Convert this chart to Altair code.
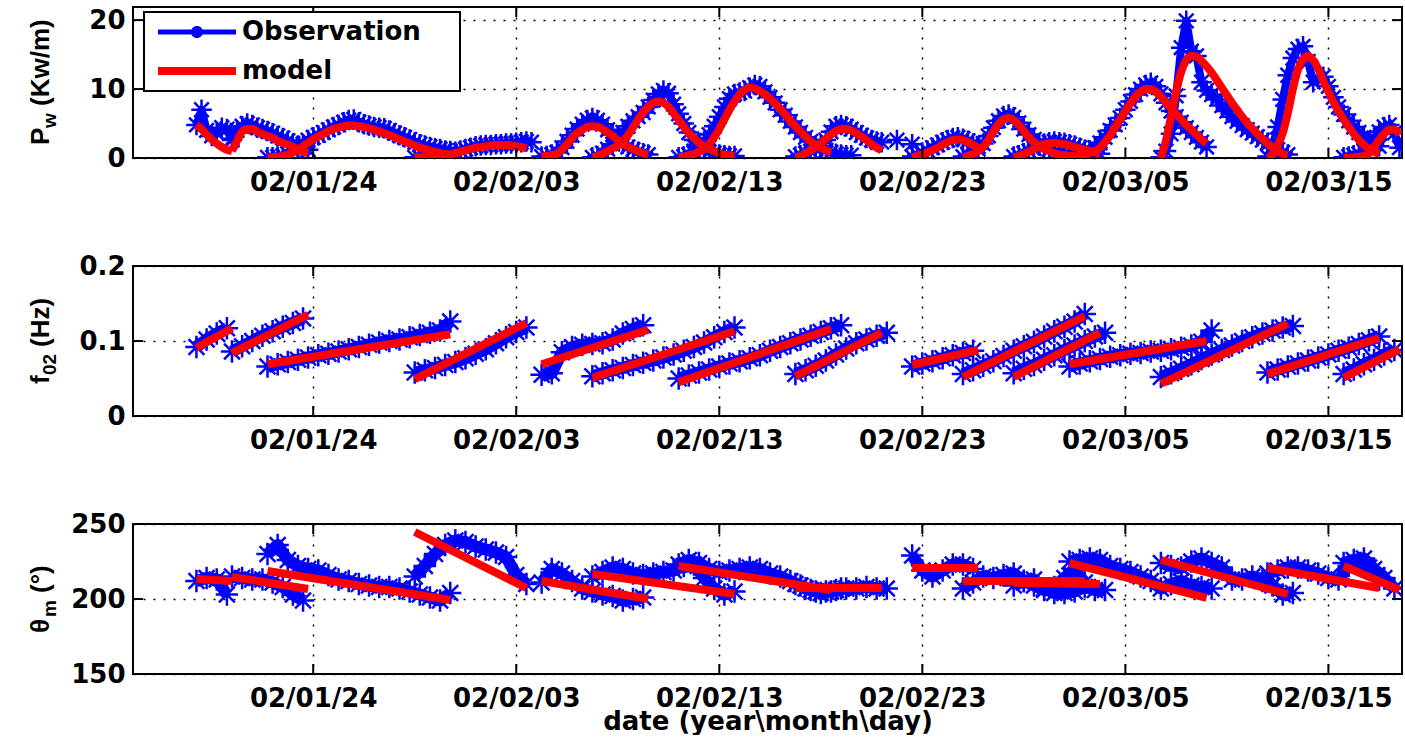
import altair as alt
import pandas as pd

BLUE = "#0000ff"
RED = "#ff0000"
FONT = "DejaVu Sans"
TFONT = "Liberation Sans"

# Start of each storm event (observations every 6 h for Pw, every 12 h for f02 / theta)
EVENT_START = [
    "2002-01-18 06:00", "2002-01-20 00:00", "2002-01-21 18:00", "2002-01-29 00:00",
    "2002-02-04 06:00", "2002-02-06 18:00", "2002-02-11 00:00", "2002-02-16 18:00",
    "2002-02-22 12:00", "2002-02-25 00:00", "2002-02-27 12:00", "2002-03-02 06:00",
    "2002-03-06 18:00", "2002-03-12 00:00", "2002-03-15 18:00",
]

# Wave power, observed (6-hourly)
PW_OBS = [
    [4.8, 7.0, 4.0, 3.2, 3.6, 4.4, 4.2, 2.6],
    [2.8, 4.0, 4.6, 5.0, 4.8, 4.4, 4.2, 3.9, 3.6, 3.2, 2.9, 2.5, 2.1, 1.8, 1.5, 1.2],
    [0.1, 0.1, 0.2, 0.3, 0.6, 1.0, 1.5, 2.0, 2.6, 3.0, 3.3, 3.7, 4.1, 4.5, 4.8, 5.2, 5.5, 5.6, 5.2,
     4.9, 4.7, 4.5, 4.4, 4.3, 4.0, 3.6, 3.3, 3.0, 2.7, 2.3, 2.0, 1.8, 1.6, 1.4, 1.3, 1.1, 1.0],
    [0.1, 0.1, 0.2, 0.2, 0.3, 0.4, 0.5, 0.7, 0.9, 1.1, 1.3, 1.5, 1.7, 1.8, 1.9, 1.9, 2.0, 2.0, 2.1,
     2.1, 2.2, 2.3, 2.4, 2.3],
    [0.2, 0.3, 0.5, 0.8, 1.5, 2.4, 3.3, 4.2, 4.9, 5.5, 5.8, 5.5, 4.9, 4.1, 3.4, 2.7, 2.1, 1.6, 1.2,
     0.9, 0.7, 0.5],
    [0.1, 0.3, 0.7, 1.3, 2.0, 2.8, 3.7, 4.6, 5.4, 6.0, 6.6, 7.4, 8.4, 9.3, 9.8, 9.4, 7.8, 6.4, 5.0,
     3.7, 2.6, 1.8, 1.3, 0.9, 0.7, 0.5, 0.4, 0.3, 0.3],
    [0.1, 0.2, 0.5, 1.0, 1.6, 2.4, 3.4, 4.6, 6.0, 7.4, 8.6, 9.3, 9.5, 9.7, 10.2, 10.6, 10.4, 9.6,
     8.8, 8.0, 7.0, 6.2, 5.3, 4.5, 3.7, 3.0, 2.4, 1.8, 1.4, 1.1, 0.8, 0.6, 0.5, 0.4, 0.4],
    [0.2, 0.4, 0.7, 1.0, 1.3, 1.7, 2.6, 3.8, 4.6, 4.8, 4.6, 4.2, 3.7, 3.3, 2.9, 2.6, 2.4, 2.3],
    [0.2, 0.5, 0.8, 1.1, 1.5, 1.9, 2.3, 2.6, 2.9, 3.0, 2.8, 2.5, 2.1, 1.7],
    [0.2, 0.4, 0.8, 1.3, 2.1, 3.2, 4.4, 5.4, 6.1, 6.3, 5.9, 5.1, 4.2, 3.4, 2.7, 2.1, 1.6, 1.2, 0.9,
     0.7, 0.5, 0.4, 0.4, 0.3, 0.3],
    [0.2, 0.4, 0.7, 1.0, 1.4, 1.8, 2.1, 2.3, 2.4, 2.3, 2.2, 2.0, 1.8, 1.5, 1.2, 1.0, 0.8, 0.6],
    [0.3, 0.4, 0.6, 0.8, 1.1, 1.5, 2.2, 3.0, 4.0, 4.8, 5.8, 7.0, 8.2, 9.2, 10.0, 10.6, 10.9, 10.4,
     9.3, 8.0, 6.8, 6.0, 5.2, 4.4, 3.7, 3.0, 2.3, 1.6],
    [0.1, 1.0, 3.5, 9.0, 16.0, 19.9, 15.5, 14.8, 11.0, 9.8, 9.2, 8.5, 7.6, 6.8, 6.0, 5.3, 4.7, 4.1,
     3.6, 3.1, 2.6, 2.2, 1.7, 1.2, 0.8, 0.5],
    [0.2, 1.5, 4.5, 8.5, 12.0, 14.5, 15.8, 16.2, 14.0, 11.0, 11.5, 11.8, 10.4, 8.8, 7.4, 6.3, 5.4,
     4.5, 3.7, 3.0, 2.4, 2.0, 1.7],
    [0.1, 0.2, 0.4, 0.6, 1.0, 1.8, 2.9, 3.8, 4.5, 4.8, 3.6, 1.5],
]

# Wave power, model (6-hourly)
PW_MOD = [
    [4.8, 4.2, 3.4, 2.7, 2.1, 1.6, 1.2, 1.0],
    [1.0, 2.5, 3.8, 4.2, 4.2, 3.8, 3.5, 3.2, 2.9, 2.5, 2.2, 1.9, 1.6, 1.2, 0.9, 0.7],
    [0.1, 0.1, 0.2, 0.3, 0.5, 0.8, 1.2, 1.7, 2.2, 2.7, 3.1, 3.5, 3.9, 4.2, 4.4, 4.6, 4.7, 4.7, 4.6,
     4.5, 4.3, 4.1, 3.8, 3.6, 3.3, 3.0, 2.7, 2.4, 2.1, 1.8, 1.5, 1.3, 1.1, 0.9, 0.7, 0.6, 0.5],
    [0.0, 0.1, 0.1, 0.2, 0.2, 0.3, 0.4, 0.5, 0.7, 0.9, 1.1, 1.3, 1.5, 1.6, 1.7, 1.8, 1.9, 1.9, 1.9,
     1.8, 1.7, 1.6, 1.4],
    [0.2, 0.3, 0.4, 0.6, 1.2, 2.0, 2.9, 3.6, 4.1, 4.5, 4.6, 4.5, 4.2, 3.7, 3.2, 2.6, 2.1, 1.6, 1.3,
     1.0, 0.7, 0.5],
    [0.1, 0.3, 0.6, 1.0, 1.4, 1.8, 2.4, 3.3, 4.4, 5.6, 6.6, 7.4, 8.0, 8.2, 8.0, 7.4, 6.5, 5.5, 4.5,
     3.6, 2.9, 2.2, 1.7, 1.3, 1.0, 0.7, 0.5, 0.4, 0.3],
    [0.1, 0.2, 0.4, 0.6, 0.9, 1.3, 2.0, 3.0, 4.2, 5.6, 7.0, 8.2, 9.2, 9.9, 10.2, 10.1, 9.7, 9.2,
     8.6, 7.9, 7.1, 6.3, 5.4, 4.6, 3.8, 3.1, 2.4, 1.9, 1.5, 1.1, 0.8],
    [0.1, 0.3, 0.7, 1.1, 1.6, 2.1, 2.8, 3.4, 3.9, 4.2, 4.2, 4.0, 3.6, 3.1, 2.6, 2.0, 1.5, 1.1],
    [0.1, 0.3, 0.5, 0.8, 1.1, 1.5, 1.9, 2.3, 2.6, 2.7, 2.6, 2.3, 1.9, 1.5],
    [0.1, 0.3, 0.6, 1.0, 1.6, 2.6, 3.8, 4.9, 5.6, 5.8, 5.5, 4.8, 3.9, 3.0, 2.3, 1.7, 1.3, 1.0, 0.7,
     0.5, 0.4, 0.3, 0.3, 0.2, 0.2],
    [0.1, 0.3, 0.6, 0.9, 1.3, 1.7, 2.0, 2.1, 2.2, 2.1, 2.0, 1.8, 1.6, 1.4, 1.2, 1.0, 0.8, 0.6],
    [0.2, 0.3, 0.4, 0.5, 0.7, 1.0, 1.5, 2.3, 3.3, 4.5, 5.6, 6.8, 7.9, 8.9, 9.6, 10.0, 10.0, 9.6,
     8.9, 8.0, 7.2, 6.4, 5.6, 4.8, 4.1, 3.4, 2.7, 2.1],
    [0.0, 2.5, 6.0, 9.6, 12.5, 14.2, 14.8, 14.7, 14.1, 13.3, 12.4, 11.3, 10.2, 9.1, 8.0, 7.0, 6.0,
     5.1, 4.3, 3.5, 2.8, 2.1, 1.5, 1.0, 0.6, 0.4],
    [0.0, 0.5, 1.8, 3.6, 6.5, 10.0, 12.8, 14.3, 14.8, 14.2, 12.9, 11.2, 9.6, 8.1, 6.8, 5.6, 4.5,
     3.5, 2.6, 1.9, 1.3, 0.9, 0.6],
    [0.0, 0.0, 0.1, 0.2, 0.3, 0.7, 1.6, 2.6, 3.5, 4.1, 4.1, 3.4],
]

# Isolated Pw observations between events
LONE_T = ["2002-02-21 18:00", "2002-02-22 12:00"]
LONE_PW = [2.6, 2.0]

# Mean frequency f02, observed (12-hourly)
F_OBS = [
    [0.092, 0.102, 0.110, 0.117],
    [0.086, 0.093, 0.100, 0.107, 0.113, 0.119, 0.124, 0.130],
    [0.066, 0.069, 0.072, 0.075, 0.078, 0.081, 0.083, 0.086, 0.089, 0.092, 0.095, 0.098, 0.100,
     0.102, 0.105, 0.108, 0.111, 0.114, 0.126],
    [0.058, 0.061, 0.064, 0.068, 0.072, 0.077, 0.083, 0.089, 0.097, 0.105, 0.112, 0.118],
    [0.055, 0.057, 0.085, 0.092, 0.095, 0.096, 0.097, 0.102, 0.110, 0.116, 0.121],
    [0.053, 0.057, 0.061, 0.064, 0.068, 0.071, 0.074, 0.078, 0.082, 0.087, 0.092, 0.098, 0.105,
     0.112, 0.118],
    [0.050, 0.054, 0.058, 0.062, 0.066, 0.070, 0.073, 0.077, 0.081, 0.087, 0.092, 0.097, 0.102,
     0.107, 0.112, 0.117, 0.121],
    [0.056, 0.061, 0.067, 0.074, 0.082, 0.090, 0.097, 0.102, 0.107, 0.111],
    [0.066, 0.070, 0.073, 0.077, 0.081, 0.084, 0.087],
    [0.056, 0.061, 0.067, 0.073, 0.080, 0.087, 0.093, 0.099, 0.106, 0.113, 0.119, 0.126, 0.136],
    [0.057, 0.063, 0.068, 0.075, 0.081, 0.088, 0.094, 0.100, 0.106, 0.111],
    [0.066, 0.070, 0.073, 0.076, 0.079, 0.081, 0.083, 0.084, 0.086, 0.087, 0.089, 0.091, 0.094,
     0.099, 0.114],
    [0.052, 0.057, 0.063, 0.069, 0.076, 0.082, 0.088, 0.094, 0.100, 0.105, 0.110, 0.114, 0.118,
     0.120],
    [0.058, 0.062, 0.066, 0.070, 0.074, 0.078, 0.082, 0.087, 0.091, 0.096, 0.101, 0.106],
    [0.056, 0.062, 0.069, 0.075, 0.082, 0.088],
]

# Mean direction theta_m, observed (12-hourly)
TH_OBS = [
    [212, 214, 213, 203],
    [215, 214, 213, 213, 211, 208, 203, 199],
    [230, 236, 226, 222, 220, 219, 216, 213, 212, 210, 209, 208, 208, 207, 205, 203, 201, 199, 204],
    [215, 222, 230, 236, 239, 238, 235, 233, 231, 228, 216, 210],
    [211, 220, 217, 212, 207, 205, 203, 202, 199, 200, 201],
    [215, 218, 221, 220, 217, 216, 217, 218, 219, 222, 223, 214, 207, 203, 205],
    [223, 226, 224, 220, 218, 219, 220, 221, 220, 217, 215, 212, 209, 206, 204, 205, 207],
    [210, 207, 205, 205, 206, 207, 207, 208, 207, 207],
    [229, 219, 215, 219, 223, 223, 220],
    [207, 211, 215, 214, 216, 217, 212, 209, 206, 208, 214, 220, 211],
    [209, 212, 213, 207, 204, 204, 205, 208, 206, 206],
    [225, 226, 227, 226, 222, 220, 218, 215, 212, 207, 210, 212, 209, 208, 207],
    [224, 222, 221, 225, 227, 224, 221, 213, 213, 215, 212, 209, 203, 204],
    [217, 219, 221, 221, 219, 217, 214, 213, 222, 224, 221, 213],
    [224, 226, 227, 220, 214, 207],
]

# Linear model trends over each event (start value, end value)
F_MOD = [
    (0.091, 0.117), (0.084, 0.135), (0.069, 0.109), (0.049, 0.124), (0.069, 0.115),
    (0.051, 0.113), (0.045, 0.116), (0.053, 0.111), (0.068, 0.088), (0.052, 0.133),
    (0.052, 0.111), (0.069, 0.100), (0.043, 0.123), (0.056, 0.104), (0.051, 0.089),
]
TH_MOD = [
    (213.3, 212.0), (214.7, 206.7), (218.7, 199.3), (244.7, 207.3), (212.0, 200.0),
    (216.7, 203.3), (222.0, 206.0), (207.3, 207.3), (220.7, 220.7), (212.0, 212.0),
    (210.7, 210.0), (224.0, 200.7), (226.0, 203.3), (220.7, 207.3), (222.0, 206.0),
]

TICK_DATES = [(2002, 1, 24), (2002, 2, 3), (2002, 2, 13), (2002, 2, 23), (2002, 3, 5), (2002, 3, 15)]
X_START = (2002, 1, 15, 3)
X_END = (2002, 3, 18, 15)

W = 1269
H1, H2, H3 = 151, 150, 150

STAR = "M-1,0L1,0M0,-1L0,1M-0.71,-0.71L0.71,0.71M-0.71,0.71L0.71,-0.71"
# legend glyphs: line with a dot, and a thick line (trailing move widens the legend frame)
LEG_OBS = ("M-4,-0.26L4,-0.26L4,0.26L-4,0.26Z"
           "M0.62,0A0.62,0.62 0 1,1 -0.62,0A0.62,0.62 0 1,1 0.62,0Z")
LEG_MOD = "M-4,-0.41L4,-0.41L4,0.41L-4,0.41ZM26.2,0"


def stamp(start, i, step_h):
    return (pd.Timestamp(start) + pd.Timedelta(hours=step_h * i)).strftime("%Y-%m-%dT%H:%M:%S")


def long_frame(lists, step_h):
    rows = []
    for k, (start, vals) in enumerate(zip(EVENT_START, lists)):
        for i, v in enumerate(vals):
            rows.append({"seg": k, "t": stamp(start, i, step_h), "val": v})
    return pd.DataFrame(rows)


def trend_frame(pairs):
    rows = []
    for k, (start, mod, (v0, v1)) in enumerate(zip(EVENT_START, PW_MOD, pairs)):
        rows.append({"seg": k, "t": stamp(start, 0, 6), "val": v0})
        rows.append({"seg": k, "t": stamp(start, len(mod) - 1, 6), "val": v1})
    return pd.DataFrame(rows)


def dt(y, m, d, h=0):
    return alt.DateTime(year=y, month=m, date=d, hours=h)


def xenc(title=None):
    return alt.X(
        "t:T",
        scale=alt.Scale(domain=[dt(*X_START), dt(*X_END)], nice=False),
        axis=alt.Axis(values=[dt(*d) for d in TICK_DATES], format="%y/%m/%d", title=title,
                      labelFlush=False, labelOverlap=False),
    )


def yenc(domain, ticks):
    return alt.Y(
        "val:Q",
        scale=alt.Scale(domain=domain, nice=False, zero=False),
        axis=alt.Axis(values=ticks, format=".3~f", title=None),
    )


tick_df = pd.DataFrame({"t": ["%04d-%02d-%02dT00:00:00" % d for d in TICK_DATES]})


def star_layer(df, size):
    return alt.Chart(df).mark_point(shape=STAR, size=size, filled=False, color=BLUE,
                                    strokeWidth=2.5, opacity=1, clip=True)


def panel(obs_df, mod_df, interp, domain, ticks, h, title_parts, obs_w, star_size,
          xtitle=None, extra=()):
    X = xenc(xtitle)
    Y = yenc(domain, ticks)
    layers = [
        alt.Chart(obs_df).mark_line(color=BLUE, strokeWidth=obs_w, strokeJoin="round", clip=True)
        .encode(x=X, y=Y, detail="seg:N"),
        star_layer(obs_df, star_size).encode(x=X, y=Y),
    ]
    layers += list(extra)
    layers.append(
        alt.Chart(mod_df).mark_line(color=RED, strokeWidth=8, interpolate=interp, clip=True)
        .encode(x=X, y=Y, detail="seg:N")
    )
    # inward tick marks on all four sides
    layers.append(alt.Chart(tick_df).mark_rule(color="black", strokeWidth=2)
                  .encode(x=X, y=alt.value(h), y2=alt.value(h - 10)))
    layers.append(alt.Chart(tick_df).mark_rule(color="black", strokeWidth=2)
                  .encode(x=X, y=alt.value(0), y2=alt.value(10)))
    ytick_df = pd.DataFrame({"val": ticks})
    layers.append(alt.Chart(ytick_df).mark_rule(color="black", strokeWidth=2)
                  .encode(y=Y, x=alt.value(0), x2=alt.value(10)))
    layers.append(alt.Chart(ytick_df).mark_rule(color="black", strokeWidth=2)
                  .encode(y=Y, x=alt.value(W - 10), x2=alt.value(W)))
    # rotated y-axis title, with subscript
    for text, size, bx, by in title_parts:
        layers.append(
            alt.Chart(pd.DataFrame({"s": [text]}))
            .mark_text(angle=270, align="left", baseline="alphabetic", font=TFONT,
                       fontWeight="bold", fontSize=size, color="black")
            .encode(text="s:N", x=alt.value(bx), y=alt.value(by))
        )
    return alt.layer(*layers).properties(width=W, height=h)


pw_obs = long_frame(PW_OBS, 6)
pw_mod = long_frame(PW_MOD, 6)
lone_df = pd.DataFrame({"t": [pd.Timestamp(t).strftime("%Y-%m-%dT%H:%M:%S") for t in LONE_T],
                        "val": LONE_PW})
f_obs = long_frame(F_OBS, 12)
f_mod = trend_frame(F_MOD)
th_obs = long_frame(TH_OBS, 12)
th_mod = trend_frame(TH_MOD)

legend = alt.Legend(
    title=None, orient="none", legendX=11, legendY=5, direction="vertical",
    labelFont=FONT, labelFontWeight="bold", labelFontSize=26, labelColor="black",
    labelLimit=0,
    symbolSize=380, symbolStrokeWidth=0, symbolOffset=33, labelOffset=32,
    rowPadding=13, padding=7, strokeColor="black", fillColor="white",
)
series = ["Observation", "model"]
legend_layer = alt.Chart(alt.Data(values=[])).mark_point(filled=True, opacity=1).encode(
    x=xenc(), y=yenc([0, 21.9], [0, 10, 20]),
    color=alt.Color("series:N", scale=alt.Scale(domain=series, range=[BLUE, RED]), legend=legend),
    shape=alt.Shape("series:N", scale=alt.Scale(domain=series, range=[LEG_OBS, LEG_MOD]),
                    legend=legend),
)

lone_layer = star_layer(lone_df, 420).encode(x=xenc(), y=yenc([0, 21.9], [0, 10, 20]))

p1 = panel(pw_obs, pw_mod, "monotone", [0, 21.9], [0, 10, 20], H1,
           [("P", 26, -84, 138), ("w", 19, -77, 121), ("(Kw/m)", 26, -84, 99)],
           obs_w=8, star_size=420, extra=[lone_layer])
p1 = alt.layer(p1, legend_layer)

p2 = panel(f_obs, f_mod, "linear", [0, 0.2], [0, 0.1, 0.2], H2,
           [("f", 26, -84, 118), ("02", 19, -77, 109), ("(Hz)", 26, -84, 81)],
           obs_w=12, star_size=500)
p3 = panel(th_obs, th_mod, "linear", [150, 250], [150, 200, 250], H3,
           [("θ", 26, -84, 109), ("m", 19, -77, 93), ("(°)", 26, -84, 69)],
           obs_w=12, star_size=500, xtitle="date (year\\month\\day)")

chart = (
    alt.vconcat(p1, p2, p3, spacing=108, bounds="flush")
    .properties(padding={"left": 27, "top": 5, "right": 0, "bottom": 0})
    .configure_view(stroke="black", strokeWidth=2)
    .configure_axis(
        labelFont=FONT, labelFontWeight="bold", labelFontSize=26, labelColor="black",
        ticks=False, domain=False, grid=True, gridColor="black", gridDash=[2, 8],
        gridWidth=1.5, titleFont=FONT, titleFontWeight="bold", titleFontSize=26,
        titleColor="black",
    )
    .configure_axisX(labelPadding=11, titlePadding=-3)
    .configure_axisY(labelPadding=8)
    .configure_legend(strokeWidth=2)
)

chart.save("out.html", embed_options={"renderer": "svg", "actions": False})
